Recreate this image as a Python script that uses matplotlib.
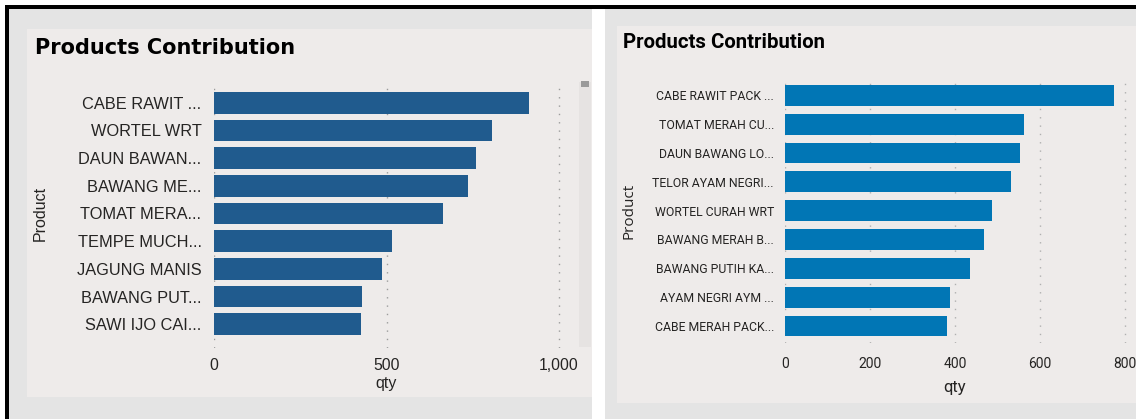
import matplotlib
matplotlib.use("Agg")
import matplotlib.pyplot as plt
from matplotlib.patches import Rectangle
from matplotlib.ticker import FuncFormatter

# data
left_products = ["CABE RAWIT ...", "WORTEL WRT", "DAUN BAWAN...", "BAWANG ME...",
                 "TOMAT MERA...", "TEMPE MUCH...", "JAGUNG MANIS", "BAWANG PUT...",
                 "SAWI IJO CAI..."]
left_qty = [913, 807, 758, 737, 663, 517, 487, 428, 426]
left_ticks = [0, 500, 1000]

right_products = ["CABE RAWIT PACK ...", "TOMAT MERAH CU...", "DAUN BAWANG LO...",
                  "TELOR AYAM NEGRI...", "WORTEL CURAH WRT", "BAWANG MERAH B...",
                  "BAWANG PUTIH KA...", "AYAM NEGRI AYM ...", "CABE MERAH PACK..."]
right_qty = [775, 562, 554, 532, 487, 468, 436, 388, 381]
right_ticks = [0, 200, 400, 600, 800]

W, H = 1136, 419
fig = plt.figure(figsize=(W / 100, H / 100), dpi=100, facecolor="white")


def box(x0, y0, x1, y1, color, z=-2):
    # pixel box (from top-left) -> figure rectangle
    fig.patches.append(Rectangle((x0 / W, 1 - y1 / H), (x1 - x0) / W, (y1 - y0) / H,
                                 transform=fig.transFigure, facecolor=color,
                                 edgecolor="none", zorder=z))


def fit(txt, width_px):
    r = fig.canvas.get_renderer()
    w = txt.get_window_extent(r).width
    txt.set_fontsize(txt.get_fontsize() * width_px / w)


# panel backgrounds
box(9, 9, 592, 419, "#e4e4e4")
box(27, 29, 592, 397, "#eeebea")
box(605, 9, 1136, 419, "#e4e4e4")
box(617, 26, 1136, 403, "#eeebea")
# black frame lines
box(5, 5, 1136, 9, "black", 5)
box(5, 5, 9, 419, "black", 5)
# scrollbar of the left visual
box(579, 82, 591, 347, "#e6e3e2", -1)
box(581, 81, 589, 87, "#9a9a9a", -1)

ink = "#252423"

# ---- left visual (axes a bit wider than 1,000 so the last grid line is not clipped)
ax1 = fig.add_axes([214 / W, 1 - 348 / H, 351 / W, 263 / H])
ax1.set_facecolor("none")
ax1.barh(range(len(left_qty)), left_qty, height=0.78, color="#205b8e", zorder=2)
ax1.set_xlim(0, 1000 * 351 / 345)
ax1.set_ylim(8.86, -0.64)
ax1.set_xticks(left_ticks)
ax1.xaxis.set_major_formatter(FuncFormatter(lambda v, p: f"{v:,.0f}"))
ax1.set_yticks(range(len(left_products)))
ax1.set_yticklabels(left_products)
ax1.grid(axis="x", linestyle=(0, (1, 5)), color="#9c9c9c", linewidth=1, zorder=0)
ax1.tick_params(length=0, labelcolor=ink)
ax1.tick_params(axis="y", pad=9, labelsize=11.8)
ax1.tick_params(axis="x", pad=7, labelsize=11.3)
for lab in ax1.get_xticklabels() + ax1.get_yticklabels():
    lab.set_family("Liberation Sans")
for s in ax1.spines.values():
    s.set_visible(False)

t1 = fig.text(35 / W, 1 - 48 / H, "Products Contribution", fontsize=15, fontweight="bold",
              family="DejaVu Sans", color="black", va="center", ha="left")
fig.text(386 / W, 1 - 383 / H, "qty", fontsize=11.5, family="Liberation Sans",
         color=ink, ha="center", va="center")
fig.text(40 / W, 1 - 213 / H, "Product", fontsize=11.5, family="Liberation Sans",
         color=ink, ha="center", va="center", rotation=90)

# ---- right visual
ax2 = fig.add_axes([785 / W, 1 - 343 / H, 346 / W, 263 / H])
ax2.set_facecolor("none")
ax2.barh(range(len(right_qty)), right_qty, height=0.72, color="#0176b5", zorder=2)
ax2.set_xlim(0, 800 * 346 / 340)
ax2.set_ylim(8.59, -0.53)
ax2.set_xticks(right_ticks)
ax2.set_yticks(range(len(right_products)))
ax2.set_yticklabels(right_products)
ax2.grid(axis="x", linestyle=(0, (1, 5)), color="#b0b0b0", linewidth=1, zorder=0)
ax2.tick_params(length=0, labelcolor=ink)
ax2.tick_params(axis="y", pad=8, labelsize=8.8)
ax2.tick_params(axis="x", pad=10, labelsize=10)
for lab in ax2.get_xticklabels() + ax2.get_yticklabels():
    lab.set_family("Roboto")
for s in ax2.spines.values():
    s.set_visible(False)

t2 = fig.text(623 / W, 1 - 43 / H, "Products Contribution", fontsize=15, fontweight="bold",
              family="Roboto", color="black", va="center", ha="left")
fig.text(955 / W, 1 - 387 / H, "qty", fontsize=12, family="Roboto",
         color=ink, ha="center", va="center")
fig.text(629 / W, 1 - 211 / H, "Product", fontsize=11, family="Open Sans",
         color=ink, ha="center", va="center", rotation=90)

fit(t1, 261)
fit(t2, 203)

fig.savefig("out.png", dpi=100, facecolor="white")
